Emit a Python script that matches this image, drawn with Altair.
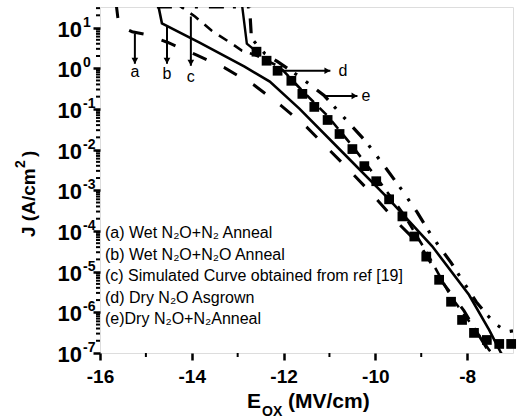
import altair as alt
import pandas as pd

FONT = "Liberation Sans"

# ---------------- data ----------------
# long-dash curve (a)
a_E = [-15.65, -15.59, -15.30, -15.02, -14.52, -13.89, -13.28, -12.65, -12.04, -11.50,
       -10.76, -10.13, -9.54, -9.04, -8.50, -8.07, -7.57, -7.50]
a_J = [40, 11.2, 7.9, 6.8, 4.3, 2.1, 1.02, 0.39, 0.117, 0.036,
       5.2e-3, 9.5e-4, 1.7e-4, 4.7e-5, 4.8e-6, 1.1e-6, 1.3e-7, 8e-8]

# medium-dash curve
b_E = [-14.35, -13.93, -13.57, -13.13, -12.91, -12.63, -12.09, -11.59, -11.04, -10.50,
       -9.98, -9.41, -8.89, -8.35, -7.85, -7.52, -7.40]
b_J = [40, 18.7, 8.43, 4.03, 2.71, 2.15, 1.09, 0.278, 0.0671, 0.0122,
       2.09e-3, 2.86e-4, 3.12e-5, 2.41e-6, 4.14e-7, 1.19e-7, 8e-8]

# solid curve
c_E = [-14.74, -14.65, -13.83, -12.85, -12.30, -11.65, -10.78, -9.70, -8.76, -7.96,
       -7.52, -7.26, -7.20]
c_J = [40, 12.6, 4.27, 1.10, 0.468, 0.100, 1.02e-2, 6.0e-4, 4.2e-5, 2.7e-6,
       3.7e-7, 1.0e-7, 8e-8]

# squares (d) and the steep line leading to them
d_E = [-12.59, -12.37, -12.13, -11.83, -11.59, -11.33, -11.04, -10.78, -10.50, -10.24,
       -9.98, -9.70, -9.41, -9.15, -8.89, -8.61, -8.35, -8.11, -7.85, -7.57, -7.30, -7.04]
d_J = [2.55, 1.53, 0.867, 0.491, 0.234, 0.112, 0.0535, 0.0242, 0.0103, 3.92e-3,
       1.67e-3, 6.0e-4, 2.28e-4, 7.3e-5, 2.34e-5, 6.3e-6, 1.82e-6, 6.5e-7, 3.12e-7,
       2.09e-7, 1.67e-7, 1.67e-7]
d_line_E = [-12.91, -12.80, -12.59]
d_line_J = [40, 4.0, 2.55]

# dash-dot-dot curve (e)
e_E = [-14.76, -12.74, -12.70, -12.41, -12.13, -11.65, -11.11, -10.61, -10.20, -9.80,
       -9.43, -9.09, -8.76, -8.35, -7.80, -7.57, -7.35, -7.13, -7.00]
e_J = [32, 32, 5.4, 2.3, 1.45, 0.62, 0.21, 0.050, 0.0155, 3.9e-3,
       1.05e-3, 2.9e-4, 7.2e-5, 1.66e-5, 1.8e-6, 8.7e-7, 4.9e-7, 3.3e-7, 3.5e-7]

# annotation arrows
down_arrow_labels = ["a", "b", "c"]
down_arrow_E = [-15.24, -14.54, -14.02]
down_arrow_top = [7.1, 10.6, 18.7]
down_arrow_tip = [1.29, 1.29, 1.15]
down_label_J = [0.82, 0.73, 0.62]

side_arrow_labels = ["d", "e"]
side_arrow_start = [-12.09, -11.11]
side_arrow_tip = [-10.98, -10.39]
side_arrow_J = [0.867, 0.209]
side_label_E = [-10.80, -10.30]

legend_lines = [
    "(a) Wet N\u2082O+N\u2082 Anneal",
    "(b) Wet N\u2082O+N\u2082O Anneal",
    "(c) Simulated Curve obtained from ref [19]",
    "(d) Dry N\u2082O Asgrown",
    "(e)Dry N\u2082O+N\u2082Anneal",
]

x_major = [-16, -14, -12, -10, -8]
x_minor = [-15, -13, -11, -9]
y_exponents = [-7, -6, -5, -4, -3, -2, -1, 0, 1]
y_minor_mult = [2, 3, 4, 5, 6, 7, 8, 9]

# ---------------- chart ----------------
W, H = 413, 346
x_scale = alt.Scale(domain=[-16, -7], nice=False, zero=False)
y_scale = alt.Scale(type="log", domain=[1e-7, 32], nice=False)

x_axis = alt.Axis(values=x_major, title=None, domain=False, grid=False,
                  tickSize=7, tickWidth=2.5, tickColor="black",
                  labelFont=FONT, labelFontSize=19, labelFontWeight="bold",
                  labelColor="black", labelPadding=7, labelExpr="datum.value + ''",
                  labelFlush=False)
y_axis = alt.Axis(values=[10.0 ** e for e in y_exponents], title=None, domain=False,
                  grid=False, labels=False, tickSize=7, tickWidth=2.5, tickColor="black")


def X(field="E"):
    return alt.X(f"{field}:Q", scale=x_scale, axis=x_axis)


def Y(field="J"):
    return alt.Y(f"{field}:Q", scale=y_scale, axis=y_axis)


def line_layer(xs, ys, width, dash=None):
    df = pd.DataFrame({"E": xs, "J": ys, "i": list(range(len(xs)))})
    kw = dict(color="black", strokeWidth=width, clip=True)
    if dash:
        kw["strokeDash"] = dash
    return alt.Chart(df).mark_line(**kw).encode(x=X(), y=Y(), order="i:Q")


layers = []
layers.append(line_layer(a_E, a_J, 3, [15, 19]))
layers.append(line_layer(b_E, b_J, 2.6, [10, 8]))
layers.append(line_layer(c_E, c_J, 2.6))
layers.append(line_layer(e_E, e_J, 3.2, [15, 9, 3, 11, 3, 11]))
layers.append(line_layer(d_line_E, d_line_J, 2.4))

sq = pd.DataFrame({"E": d_E, "J": d_J})
layers.append(alt.Chart(sq).mark_square(color="black", opacity=1, size=95, clip=False)
              .encode(x=X(), y=Y()))

# minor ticks
ymin_df = pd.DataFrame({"J": [m * 10.0 ** e for e in y_exponents[:-1] for m in y_minor_mult]
                        + [2 * 10.0 ** y_exponents[-1], 3 * 10.0 ** y_exponents[-1]]})
layers.append(alt.Chart(ymin_df).mark_rule(color="black", strokeWidth=2)
              .encode(y=Y(), x=alt.value(-4), x2=alt.value(0)))
xmin_df = pd.DataFrame({"E": x_minor})
layers.append(alt.Chart(xmin_df).mark_rule(color="black", strokeWidth=2)
              .encode(x=X(), y=alt.value(H), y2=alt.value(H + 4)))

# y tick labels 10^n
ylab = pd.DataFrame({"J": [10.0 ** e for e in y_exponents],
                     "base": ["10"] * len(y_exponents),
                     "exp": [str(e) for e in y_exponents]})
layers.append(alt.Chart(ylab).mark_text(font=FONT, fontSize=22, fontWeight="bold",
                                        align="right", baseline="middle", dy=2, color="black")
              .encode(y=Y(), x=alt.value(-18), text="base:N"))
layers.append(alt.Chart(ylab).mark_text(font=FONT, fontSize=14, fontWeight="bold",
                                        align="left", baseline="middle", dy=-5, color="black")
              .encode(y=Y(), x=alt.value(-17), text="exp:N"))

# arrows pointing down (a, b, c)
dn = pd.DataFrame({"E": down_arrow_E, "top": down_arrow_top, "tip": down_arrow_tip,
                   "lab": down_label_J, "t": down_arrow_labels})
layers.append(alt.Chart(dn).mark_rule(color="black", strokeWidth=2)
              .encode(x=X(), y=Y("top"), y2="tip:Q"))
layers.append(alt.Chart(dn).mark_point(shape="triangle-down", filled=True, color="black",
                                       opacity=1, size=45, yOffset=-3)
              .encode(x=X(), y=Y("tip")))
layers.append(alt.Chart(dn).mark_text(font=FONT, fontSize=16, baseline="middle",
                                      align="center", color="black")
              .encode(x=X(), y=Y("lab"), text="t:N"))

# arrows pointing right (d, e)
sd = pd.DataFrame({"s": side_arrow_start, "tip": side_arrow_tip, "J": side_arrow_J,
                   "lab": side_label_E, "t": side_arrow_labels})
layers.append(alt.Chart(sd).mark_rule(color="black", strokeWidth=2)
              .encode(x=X("s"), x2="tip:Q", y=Y()))
layers.append(alt.Chart(sd).mark_point(shape="triangle-right", filled=True, color="black",
                                       opacity=1, size=45, xOffset=-3)
              .encode(x=X("tip"), y=Y()))
layers.append(alt.Chart(sd).mark_text(font=FONT, fontSize=16, baseline="middle",
                                      align="left", color="black")
              .encode(x=X("lab"), y=Y(), text="t:N"))

# legend text block
for k, line in enumerate(legend_lines):
    layers.append(alt.Chart(pd.DataFrame({"t": [line]}))
                  .mark_text(font=FONT, fontSize=16, align="left", baseline="middle",
                             color="black")
                  .encode(x=alt.value(5), y=alt.value(226 + 21.6 * k), text="t:N"))

# axis titles
def free_text(txt, x, y, size, angle=0):
    return (alt.Chart(pd.DataFrame({"t": [txt]}))
            .mark_text(font=FONT, fontSize=size, fontWeight="bold", align="left",
                       baseline="alphabetic", angle=angle, color="black")
            .encode(x=alt.value(x), y=alt.value(y), text="t:N"))

layers.append(free_text("E", 147, 401, 21))
layers.append(free_text("OX", 162, 409, 14))
layers.append(free_text("(MV/cm)", 188, 401, 21))
layers.append(free_text("J (A/cm", -65, 230, 19, 270))
layers.append(free_text("2", -75, 161, 14, 270))
layers.append(free_text(")", -65, 150, 19, 270))

chart = (alt.layer(*layers)
         .properties(width=W, height=H,
                     autosize=alt.AutoSizeParams(type="none"),
                     padding={"left": 100, "top": 7, "right": 4, "bottom": 66})
         .configure_view(stroke="black", strokeWidth=2.6)
         .configure(background="white"))

chart.save("out.html", embed_options={"renderer": "svg", "actions": False})
